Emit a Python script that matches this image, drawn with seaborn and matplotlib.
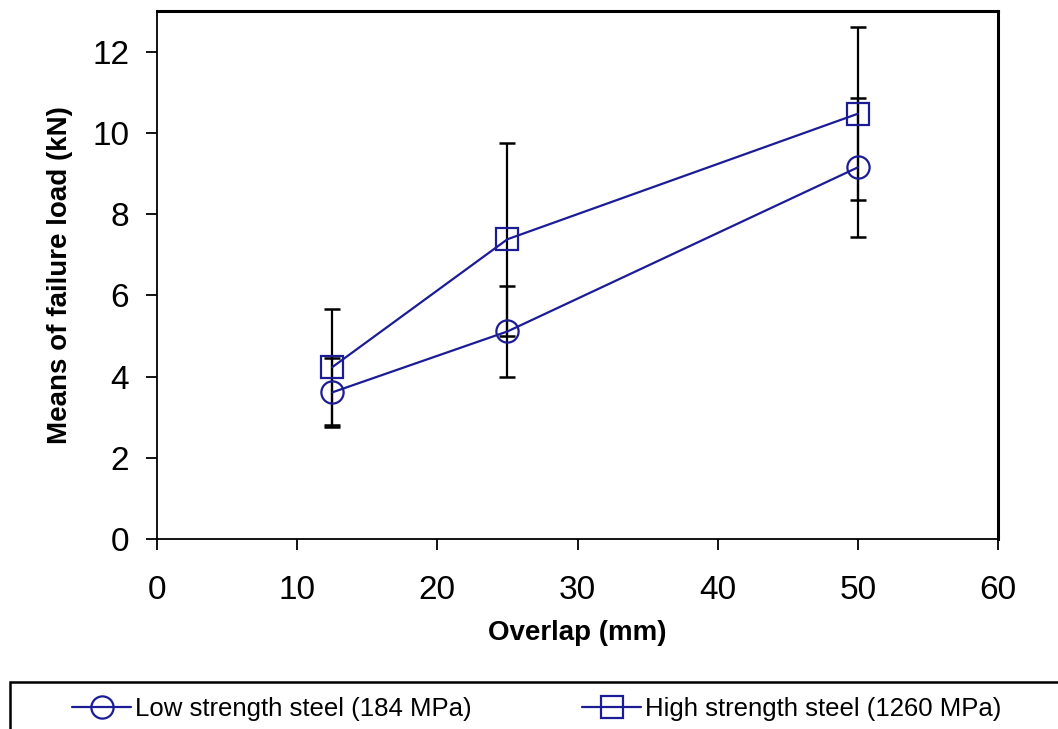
import matplotlib
matplotlib.use("Agg")
import matplotlib.pyplot as plt
from matplotlib.patches import Rectangle
import numpy as np
import pandas as pd
import seaborn as sns

overlap = [12.5, 25, 50]
low_mean = [3.61, 5.11, 9.15]
low_err = [0.85, 1.12, 1.72]
high_mean = [4.23, 7.38, 10.47]
high_err = [1.43, 2.38, 2.13]
series_names = ["Low strength steel (184 MPa)", "High strength steel (1260 MPa)"]

blue = "#1c1c97"

sns.set_theme(style="ticks")
plt.rcParams["font.family"] = ["Liberation Sans", "DejaVu Sans"]

df = pd.DataFrame({
    "overlap": overlap * 2,
    "load": low_mean + high_mean,
    "err": low_err + high_err,
    "steel": [series_names[0]] * 3 + [series_names[1]] * 3,
})

fig = plt.figure(figsize=(10.58, 7.29), dpi=100)
ax = fig.add_axes([157 / 1058, 190 / 729, 841 / 1058, 528 / 729])

# error bars first, black
for name in series_names:
    sub = df[df["steel"] == name]
    ax.errorbar(sub["overlap"], sub["load"], yerr=sub["err"], fmt="none",
                ecolor="black", elinewidth=1.6, capsize=5.5, capthick=1.8, zorder=2)

markers = {series_names[0]: "o", series_names[1]: "s"}
for name in series_names:
    sub = df[df["steel"] == name]
    sns.lineplot(data=sub, x="overlap", y="load", ax=ax, color=blue, lw=1.6,
                 marker=markers[name], markersize=16, mfc="none", mec=blue,
                 mew=1.6, label=name, zorder=3)

ax.set_xlim(0, 60)
ax.set_ylim(0, 13)
ax.set_xticks(np.arange(0, 61, 10))
ax.set_yticks(np.arange(0, 13, 2))
ax.tick_params(axis="both", direction="out", length=8, width=1.3,
               labelsize=24, colors="black")
ax.tick_params(axis="x", pad=18)
ax.tick_params(axis="y", pad=12)
for s in ax.spines.values():
    s.set_color("black")
    s.set_linewidth(1.3)
ax.spines["top"].set_linewidth(2.2)
ax.spines["right"].set_linewidth(2.2)
ax.set_xlabel("Overlap (mm)", fontsize=20, fontweight="bold", labelpad=10, color="black")
ax.set_ylabel("Means of failure load (kN)", fontsize=20, fontweight="bold", labelpad=14,
              color="black")

handles, labels = ax.get_legend_handles_labels()
ax.legend_.remove()
fig.legend(handles, labels, loc="upper left", bbox_to_anchor=(62 / 1058, 1 - 687 / 729),
           ncol=2, frameon=False, fontsize=18.5, handlelength=2.3, handletextpad=0.15,
           columnspacing=4.3, borderaxespad=0, labelcolor="black")
fig.patches.append(Rectangle((10 / 1058, -0.05), 1.0, 0.05 + 1 - 682 / 729,
                             transform=fig.transFigure, fill=False, ec="black", lw=1.8))

fig.savefig("out.png", dpi=100)
